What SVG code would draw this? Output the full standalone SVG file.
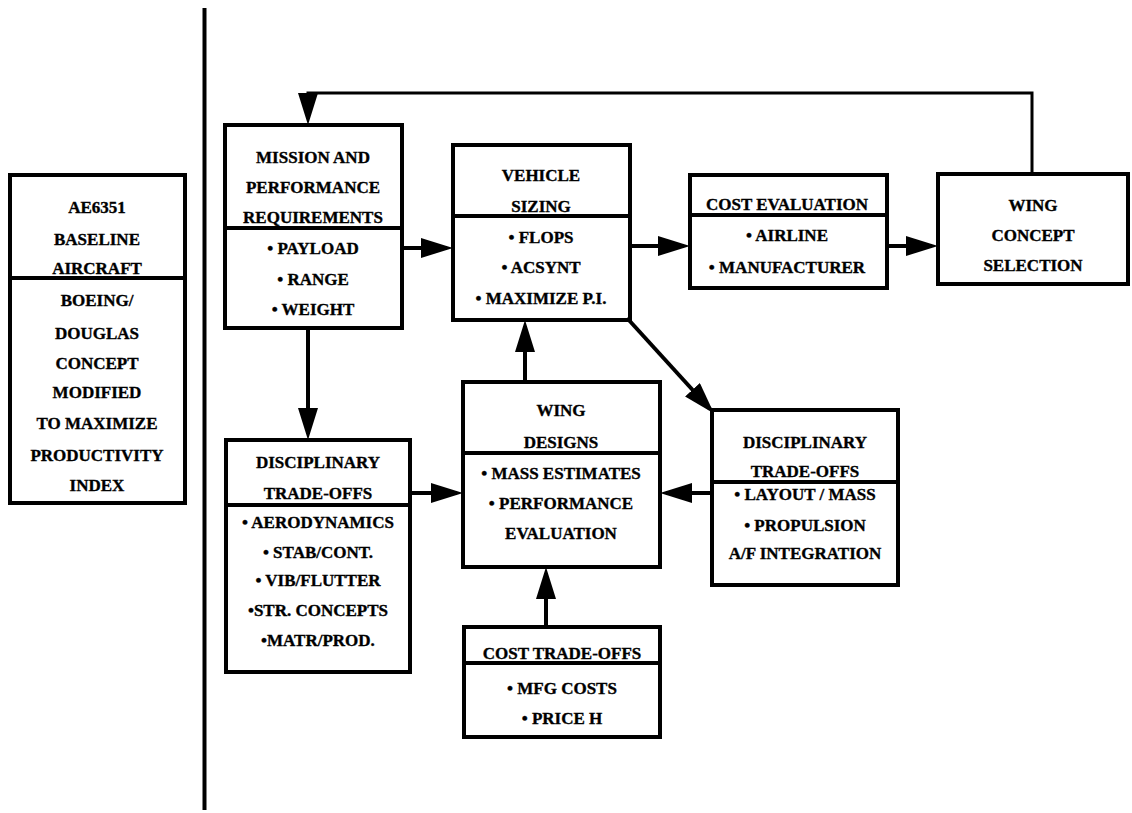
<svg xmlns="http://www.w3.org/2000/svg" width="1132" height="813" viewBox="0 0 1132 813">
  <defs>
    <style>
      .box { fill: #fff; stroke: #000; stroke-width: 4; }
      .div { stroke: #000; stroke-width: 4; }
      .t { font-family: "Liberation Serif", "Times New Roman", serif; font-weight: bold; font-size: 17px; fill: #000; stroke: #000; stroke-width: 0.35; text-anchor: middle; }
      .wire { fill: none; stroke: #000; stroke-width: 4; }
      .thin { fill: none; stroke: #000; stroke-width: 3; }
    </style>
    <marker id="head" markerUnits="userSpaceOnUse" markerWidth="32" markerHeight="20" refX="26" refY="10" orient="auto">
      <path d="M0,0 L32,10 L0,20 Z" fill="#000"/>
    </marker>
  </defs>

  <rect width="1132" height="813" fill="#fff"/>

  <!-- separator between baseline panel and process flow -->
  <line x1="204.5" y1="8" x2="204.5" y2="810" stroke="#000" stroke-width="4"/>

  <g id="baseline">
    <rect class="box" x="10" y="175" width="175" height="328"/>
    <line class="div" x1="10" y1="278" x2="185" y2="278"/>
    <text class="t" x="97" y="213">AE6351</text>
    <text class="t" x="97" y="245">BASELINE</text>
    <text class="t" x="97" y="274">AIRCRAFT</text>
    <text class="t" x="97" y="306">BOEING/</text>
    <text class="t" x="97" y="339">DOUGLAS</text>
    <text class="t" x="97" y="369">CONCEPT</text>
    <text class="t" x="97" y="398">MODIFIED</text>
    <text class="t" x="97" y="429">TO MAXIMIZE</text>
    <text class="t" x="97" y="461">PRODUCTIVITY</text>
    <text class="t" x="97" y="491">INDEX</text>
  </g>

  <g id="mission">
    <rect class="box" x="225" y="125" width="177" height="203"/>
    <line class="div" x1="225" y1="228" x2="402" y2="228"/>
    <text class="t" x="313" y="163">MISSION AND</text>
    <text class="t" x="313" y="193">PERFORMANCE</text>
    <text class="t" x="313" y="223">REQUIREMENTS</text>
    <text class="t" x="313" y="254">• PAYLOAD</text>
    <text class="t" x="313" y="285">• RANGE</text>
    <text class="t" x="313" y="315">• WEIGHT</text>
  </g>

  <g id="vehicle-sizing">
    <rect class="box" x="453" y="145" width="177" height="175"/>
    <line class="div" x1="453" y1="216" x2="630" y2="216"/>
    <text class="t" x="541" y="181">VEHICLE</text>
    <text class="t" x="541" y="212">SIZING</text>
    <text class="t" x="541" y="243">• FLOPS</text>
    <text class="t" x="541" y="273">• ACSYNT</text>
    <text class="t" x="541" y="304">• MAXIMIZE P.I.</text>
  </g>

  <g id="cost-evaluation">
    <rect class="box" x="690" y="175" width="197" height="113"/>
    <line class="div" x1="690" y1="215" x2="887" y2="215"/>
    <text class="t" x="787" y="210">COST EVALUATION</text>
    <text class="t" x="787" y="241">• AIRLINE</text>
    <text class="t" x="787" y="273">• MANUFACTURER</text>
  </g>

  <g id="wing-concept-selection">
    <rect class="box" x="938" y="174" width="190" height="110"/>
    <text class="t" x="1033" y="211">WING</text>
    <text class="t" x="1033" y="241">CONCEPT</text>
    <text class="t" x="1033" y="271">SELECTION</text>
  </g>

  <g id="disciplinary-left">
    <rect class="box" x="226" y="440" width="184" height="232"/>
    <line class="div" x1="226" y1="505" x2="410" y2="505"/>
    <text class="t" x="318" y="468">DISCIPLINARY</text>
    <text class="t" x="318" y="499">TRADE-OFFS</text>
    <text class="t" x="318" y="528">• AERODYNAMICS</text>
    <text class="t" x="318" y="558">• STAB/CONT.</text>
    <text class="t" x="318" y="586">• VIB/FLUTTER</text>
    <text class="t" x="318" y="616">•STR. CONCEPTS</text>
    <text class="t" x="318" y="646">•MATR/PROD.</text>
  </g>

  <g id="wing-designs">
    <rect class="box" x="463" y="382" width="197" height="185"/>
    <line class="div" x1="463" y1="453" x2="660" y2="453"/>
    <text class="t" x="561" y="416">WING</text>
    <text class="t" x="561" y="448">DESIGNS</text>
    <text class="t" x="561" y="479">• MASS ESTIMATES</text>
    <text class="t" x="561" y="509">• PERFORMANCE</text>
    <text class="t" x="561" y="539">EVALUATION</text>
  </g>

  <g id="disciplinary-right">
    <rect class="box" x="712" y="410" width="186" height="175"/>
    <line class="div" x1="712" y1="482" x2="898" y2="482"/>
    <text class="t" x="805" y="448">DISCIPLINARY</text>
    <text class="t" x="805" y="477">TRADE-OFFS</text>
    <text class="t" x="805" y="500">• LAYOUT / MASS</text>
    <text class="t" x="805" y="531">• PROPULSION</text>
    <text class="t" x="805" y="559">A/F INTEGRATION</text>
  </g>

  <g id="cost-trade-offs">
    <rect class="box" x="464" y="627" width="196" height="110"/>
    <line class="div" x1="464" y1="663" x2="660" y2="663"/>
    <text class="t" x="562" y="659">COST TRADE-OFFS</text>
    <text class="t" x="562" y="694">• MFG COSTS</text>
    <text class="t" x="562" y="724">• PRICE H</text>
  </g>

  <g id="connectors">
    <!-- marker tips sit 6px beyond each line end -->
    <line class="wire" x1="402" y1="248" x2="447" y2="248" marker-end="url(#head)"/>
    <line class="wire" x1="630" y1="246" x2="684" y2="246" marker-end="url(#head)"/>
    <line class="wire" x1="887" y1="246" x2="932" y2="246" marker-end="url(#head)"/>
    <polyline class="thin" points="1032,174 1032,93 308,93 308,119" marker-end="url(#head)"/>
    <line class="wire" x1="308" y1="328" x2="308" y2="434" marker-end="url(#head)"/>
    <line class="wire" x1="410" y1="493" x2="457" y2="493" marker-end="url(#head)"/>
    <line class="wire" x1="712" y1="493" x2="666" y2="493" marker-end="url(#head)"/>
    <line class="wire" x1="525" y1="382" x2="525" y2="326" marker-end="url(#head)"/>
    <line class="wire" x1="546" y1="627" x2="546" y2="573" marker-end="url(#head)"/>
    <line class="wire" x1="627" y1="318" x2="710" y2="409" marker-end="url(#head)"/>
  </g>
</svg>
